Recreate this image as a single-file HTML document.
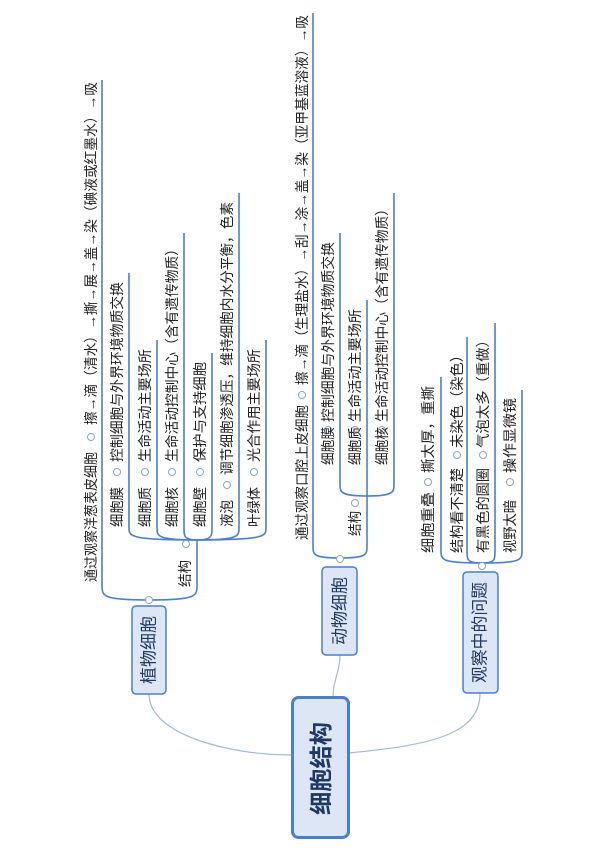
<!DOCTYPE html>
<html><head><meta charset="utf-8"><style>
html,body{margin:0;padding:0;background:#fff;}
svg{display:block;}
text{font-family:"Liberation Sans","Noto Sans CJK SC",sans-serif;fill:#222;}
.b{font-family:"Liberation Sans","Noto Sans CJK SC",sans-serif;fill:#1f3864;}
</style></head><body>
<svg width="600" height="850" viewBox="0 0 600 850" xmlns="http://www.w3.org/2000/svg">
<g fill="none" stroke="#a3b8d6" stroke-width="1.2">
<path d="M149,694 C149,735 230,755 292,755"/>
<path d="M333,697 C333,680 340,672 340,655"/>
<path d="M349,753 C430,745 480,735 480,693"/>
</g>
<g fill="none" stroke="#4a7fd0" stroke-width="1.6">
<!-- plant -->
<path d="M149,600 C102,600 102,596 102,585 L102,80"/>
<path d="M149,600 C197,600 197,596 197,585 L197,540"/>
<path d="M197,540 C129,540 129,536 129,528 L129,273"/>
<path d="M197,540 C157,540 157,536 157,528 L157,340"/>
<path d="M197,540 C184,540 184,536 184,528 L184,233"/>
<path d="M197,540 C212,540 212,536 212,528 L212,353"/>
<path d="M197,540 C239,540 239,536 239,528 L239,193"/>
<path d="M197,540 C266,540 266,536 266,528 L266,340"/>
<!-- animal -->
<path d="M340,558 C313,558 313,555 313,545 L313,13"/>
<path d="M340,558 C367,558 367,555 367,545 L367,496"/>
<path d="M367,496 C340,496 340,492 340,484 L340,233"/>
<path d="M367,496 L367,300"/>
<path d="M367,496 C394,496 394,492 394,484 L394,193"/>
<!-- problems -->
<path d="M482,563 C441,563 441,560 441,550 L441,377"/>
<path d="M482,563 C467,563 467,560 467,550 L467,337"/>
<path d="M482,563 C495,563 495,560 495,550 L495,323"/>
<path d="M482,563 C522,563 522,560 522,550 L522,390"/>
</g>
<g fill="#fff" stroke="#8aa6cc" stroke-width="1">
<circle cx="149" cy="600" r="3.5"/><circle cx="340" cy="559" r="3.5"/><circle cx="482" cy="566" r="3.5"/>
<circle cx="91" cy="437" r="3.5"/><circle cx="186" cy="544" r="3.5"/>
<circle cx="117" cy="472" r="3.5"/><circle cx="145" cy="472" r="3.5"/><circle cx="172" cy="472" r="3.5"/><circle cx="200" cy="472" r="3.5"/><circle cx="227" cy="485" r="3.5"/><circle cx="254" cy="472" r="3.5"/>
<circle cx="302" cy="395" r="3.5"/><circle cx="355" cy="503" r="3.5"/>
<circle cx="328" cy="430" r="3.5"/><circle cx="355" cy="430" r="3.5"/><circle cx="382" cy="430" r="3.5"/>
<circle cx="428" cy="482" r="3.5"/><circle cx="457" cy="455" r="3.5"/><circle cx="483" cy="455" r="3.5"/><circle cx="510" cy="482" r="3.5"/>
</g>
<g font-size="14" dominant-baseline="central" lengthAdjust="spacingAndGlyphs">
<text transform="translate(91,582) rotate(-90)" textLength="130" lengthAdjust="spacingAndGlyphs">通过观察洋葱表皮细胞</text>
<text transform="translate(91,425) rotate(-90)" textLength="343" lengthAdjust="spacingAndGlyphs">擦→滴（清水）→撕→展→盖→染（碘液或红墨水）→吸</text>
<text transform="translate(185,587) rotate(-90)" textLength="27" lengthAdjust="spacingAndGlyphs">结构</text>
<text transform="translate(117,527) rotate(-90)" textLength="40" lengthAdjust="spacingAndGlyphs">细胞膜</text>
<text transform="translate(145,527) rotate(-90)" textLength="40" lengthAdjust="spacingAndGlyphs">细胞质</text>
<text transform="translate(172,527) rotate(-90)" textLength="40" lengthAdjust="spacingAndGlyphs">细胞核</text>
<text transform="translate(200,527) rotate(-90)" textLength="40" lengthAdjust="spacingAndGlyphs">细胞壁</text>
<text transform="translate(227,527) rotate(-90)" textLength="27" lengthAdjust="spacingAndGlyphs">液泡</text>
<text transform="translate(254,527) rotate(-90)" textLength="40" lengthAdjust="spacingAndGlyphs">叶绿体</text>
<text transform="translate(117,462) rotate(-90)" textLength="180" lengthAdjust="spacingAndGlyphs">控制细胞与外界环境物质交换</text>
<text transform="translate(145,462) rotate(-90)" textLength="113" lengthAdjust="spacingAndGlyphs">生命活动主要场所</text>
<text transform="translate(172,462) rotate(-90)" textLength="220" lengthAdjust="spacingAndGlyphs">生命活动控制中心（含有遗传物质）</text>
<text transform="translate(200,462) rotate(-90)" textLength="100" lengthAdjust="spacingAndGlyphs">保护与支持细胞</text>
<text transform="translate(227,475) rotate(-90)" textLength="273" lengthAdjust="spacingAndGlyphs">调节细胞渗透压，维持细胞内水分平衡，色素</text>
<text transform="translate(254,462) rotate(-90)" textLength="113" lengthAdjust="spacingAndGlyphs">光合作用主要场所</text>

<text transform="translate(302,540) rotate(-90)" textLength="135" lengthAdjust="spacingAndGlyphs">通过观察口腔上皮细胞</text>
<text transform="translate(302,385) rotate(-90)" textLength="370" lengthAdjust="spacingAndGlyphs">擦→滴（生理盐水）→刮→涂→盖→染（亚甲基蓝溶液）→吸</text>
<text transform="translate(355,536) rotate(-90)" textLength="25" lengthAdjust="spacingAndGlyphs">结构</text>
<text transform="translate(328,465) rotate(-90)" textLength="38" lengthAdjust="spacingAndGlyphs">细胞膜</text>
<text transform="translate(355,465) rotate(-90)" textLength="38" lengthAdjust="spacingAndGlyphs">细胞质</text>
<text transform="translate(382,465) rotate(-90)" textLength="38" lengthAdjust="spacingAndGlyphs">细胞核</text>
<text transform="translate(328,422) rotate(-90)" textLength="180" lengthAdjust="spacingAndGlyphs">控制细胞与外界环境物质交换</text>
<text transform="translate(355,422) rotate(-90)" textLength="113" lengthAdjust="spacingAndGlyphs">生命活动主要场所</text>
<text transform="translate(382,422) rotate(-90)" textLength="220" lengthAdjust="spacingAndGlyphs">生命活动控制中心（含有遗传物质）</text>

<text transform="translate(428,553) rotate(-90)" textLength="61" lengthAdjust="spacingAndGlyphs">细胞重叠</text>
<text transform="translate(457,553) rotate(-90)" textLength="85" lengthAdjust="spacingAndGlyphs">结构看不清楚</text>
<text transform="translate(483,553) rotate(-90)" textLength="85" lengthAdjust="spacingAndGlyphs">有黑色的圆圈</text>
<text transform="translate(510,553) rotate(-90)" textLength="53" lengthAdjust="spacingAndGlyphs">视野太暗</text>
<text transform="translate(428,473) rotate(-90)" textLength="87" lengthAdjust="spacingAndGlyphs">撕太厚，重撕</text>
<text transform="translate(457,448) rotate(-90)" textLength="100" lengthAdjust="spacingAndGlyphs">未染色（染色）</text>
<text transform="translate(483,448) rotate(-90)" textLength="115" lengthAdjust="spacingAndGlyphs">气泡太多（重做）</text>
<text transform="translate(510,473) rotate(-90)" textLength="75" lengthAdjust="spacingAndGlyphs">操作显微镜</text>
</g>
<!-- boxes -->
<rect x="292.5" y="697.5" width="56" height="140" rx="6" fill="#dce6f4" stroke="#4a7fd0" stroke-width="3"/>
<text class="b" transform="translate(321,815) rotate(-90)" font-size="23" font-weight="bold" dominant-baseline="central" textLength="93" lengthAdjust="spacingAndGlyphs">细胞结构</text>
<rect x="132" y="606" width="34" height="88" rx="4" fill="#dce6f4" stroke="#4a7fd0" stroke-width="1.5"/>
<text class="b" transform="translate(149,684) rotate(-90)" font-size="17" dominant-baseline="central" textLength="68" lengthAdjust="spacingAndGlyphs">植物细胞</text>
<rect x="322" y="567" width="35" height="88" rx="4" fill="#dce6f4" stroke="#4a7fd0" stroke-width="1.5"/>
<text class="b" transform="translate(340,645) rotate(-90)" font-size="17" dominant-baseline="central" textLength="68" lengthAdjust="spacingAndGlyphs">动物细胞</text>
<rect x="463" y="572" width="35" height="121" rx="4" fill="#dce6f4" stroke="#4a7fd0" stroke-width="1.5"/>
<text class="b" transform="translate(480,683) rotate(-90)" font-size="17" dominant-baseline="central" textLength="101" lengthAdjust="spacingAndGlyphs">观察中的问题</text>
</svg>
</body></html>
